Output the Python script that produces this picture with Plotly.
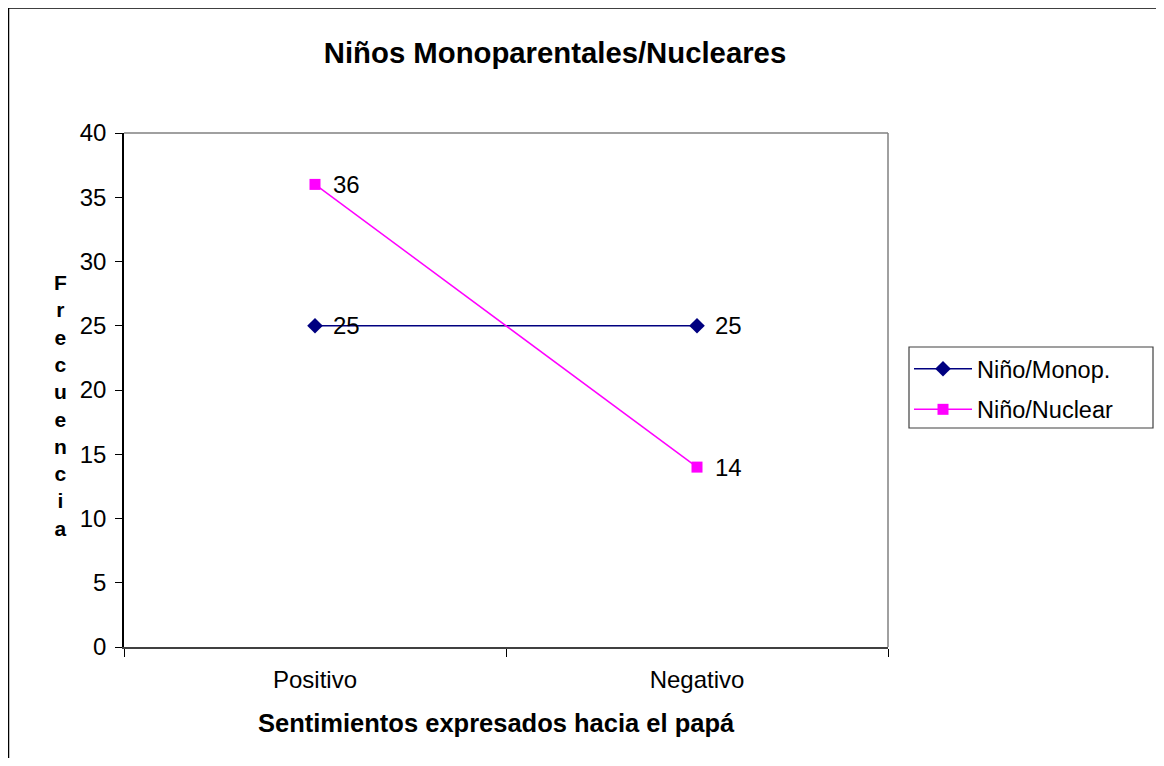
import plotly.graph_objects as go

categories = ["Positivo", "Negativo"]
monop = [25, 25]
nuclear = [36, 14]
series_names = ["Niño/Monop.", "Niño/Nuclear"]
y_ticks = [0, 5, 10, 15, 20, 25, 30, 35, 40]

# page offset (browser body margin) compensation
OFF = 8
W, H = 1164 - OFF, 750
# plot area in reference-image pixels
L, R, T, B = 124, 888, 133, 647
pw, ph = R - L, B - T

def px_x(x):
    return (x - L) / pw

def px_y(y):
    return (B - y) / ph

FONT = "Liberation Sans, Arial, sans-serif"
FS = 24

fig = go.Figure()
fig.add_trace(go.Scatter(
    x=categories, y=monop, name=series_names[0], mode="lines+markers",
    line=dict(color="#000080", width=1.5),
    marker=dict(symbol="diamond", size=12, color="#000080"),
    legendgroup="a", cliponaxis=False,
))
fig.add_trace(go.Scatter(
    x=categories, y=nuclear, name=series_names[1], mode="lines+markers",
    line=dict(color="#FF00FF", width=1.5),
    marker=dict(symbol="square", size=11, color="#FF00FF"),
    legendgroup="b", cliponaxis=False,
))

annotations = []
for series in (monop, nuclear):
    for cat, v in zip(categories, series):
        annotations.append(dict(
            x=cat, y=v, xref="x", yref="y", text=str(v), showarrow=False,
            xanchor="left", yanchor="middle", xshift=16,
            font=dict(size=FS, color="black", family=FONT)))

shapes = [
    # outer chart border: left and top edges (right/bottom lie outside the picture)
    dict(type="line", xref="paper", yref="paper",
         x0=px_x(8.5), x1=px_x(8.5), y0=px_y(900), y1=px_y(8),
         line=dict(color="black", width=1.5), layer="above"),
    dict(type="line", xref="paper", yref="paper",
         x0=px_x(8.5), x1=px_x(1300), y0=px_y(8), y1=px_y(8),
         line=dict(color="black", width=1.5), layer="above"),
    # plot area top and right border (gray)
    dict(type="line", xref="paper", yref="paper", x0=0, x1=1, y0=1, y1=1,
         line=dict(color="#808080", width=1.5)),
    dict(type="line", xref="paper", yref="paper", x0=1, x1=1, y0=0, y1=1,
         line=dict(color="#808080", width=1.5)),
    # legend frame
    dict(type="rect", xref="paper", yref="paper",
         x0=px_x(909), x1=px_x(1153), y0=px_y(428), y1=px_y(347),
         line=dict(color="#404040", width=1.2), fillcolor="white", layer="below"),
]

annotations += [
    dict(text="<b>Sentimientos expresados hacia el papá</b>", xref="paper", yref="paper",
         x=px_x(496), y=px_y(723), xanchor="center", yanchor="middle", showarrow=False,
         font=dict(size=25.5, color="black", family=FONT)),
    dict(text="<b>" + "<br>".join(list("Frecuencia")) + "</b>", xref="paper", yref="paper",
         x=px_x(60), y=px_y(405), xanchor="center", yanchor="middle", showarrow=False,
         font=dict(size=21, color="black", family=FONT)),
]

fig.update_layout(
    width=W, height=H,
    margin=dict(l=L - OFF, r=W - (R - OFF), t=T - OFF, b=H - (B - OFF), pad=0),
    paper_bgcolor="white", plot_bgcolor="white",
    font=dict(family=FONT, size=FS, color="black"),
    title=dict(text="<b>Niños Monoparentales/Nucleares</b>",
               x=(555 - OFF) / W, y=1 - (53 - OFF) / H,
               xref="container", yref="container", xanchor="center", yanchor="middle",
               font=dict(size=29.3, color="black", family=FONT)),
    xaxis=dict(type="category", range=[-0.5, 1.5], showgrid=False, zeroline=False,
               showline=True, linecolor="#404040", linewidth=2,
               ticks="outside", tickson="boundaries", ticklen=8, tickcolor="black",
               ticklabelstandoff=10,
               tickfont=dict(size=FS, color="black", family=FONT)),
    yaxis=dict(range=[0, 40], tickvals=y_ticks, showgrid=False, zeroline=False,
               showline=True, linecolor="black", linewidth=1.5,
               ticks="outside", ticklen=7, tickcolor="black",
               ticklabelstandoff=4,
               tickfont=dict(size=FS, color="black", family=FONT)),
    legend=dict(x=px_x(909), y=px_y(347), xanchor="left", yanchor="top",
                borderwidth=0, bgcolor="rgba(0,0,0,0)",
                font=dict(size=23.5, color="black", family=FONT),
                tracegroupgap=7, itemwidth=58),
    showlegend=True,
    shapes=shapes,
    annotations=annotations,
)

fig.write_html("out.html")
